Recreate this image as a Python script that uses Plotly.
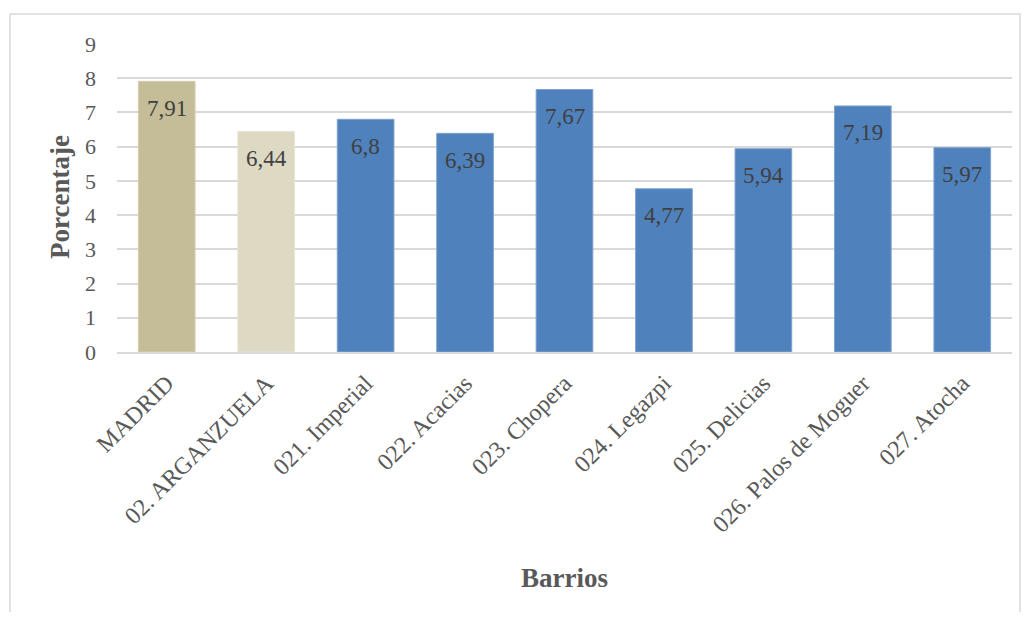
import plotly.graph_objects as go

categories = ["MADRID", "02. ARGANZUELA", "021. Imperial", "022. Acacias", "023. Chopera",
              "024. Legazpi", "025. Delicias", "026. Palos de Moguer", "027. Atocha"]
values = [7.91, 6.44, 6.8, 6.39, 7.67, 4.77, 5.94, 7.19, 5.97]
labels = ["7,91", "6,44", "6,8", "6,39", "7,67", "4,77", "5,94", "7,19", "5,97"]
colors = ["#C4BD97", "#DDD9C3"] + ["#4F81BD"] * 7
edge = ["#D3CDB0", "#E8E5D6"] + ["#7FA2CF"] * 7
y_ticks = [0, 1, 2, 3, 4, 5, 6, 7, 8, 9]

FONT = "Liberation Serif"

# the page body has an 8px margin; figure placed at (8, 8)
OX, OY = 8, 8
W, H = 1014, 604
L, R, T, B = 117 - OX, (OX + W) - 1012, 44 - OY, (OY + H) - 352
pw, ph = W - L - R, H - T - B
def px(x): return (x - OX - L) / pw
def py(y): return (OY + H - B - y) / ph

fig = go.Figure()
fig.add_trace(go.Bar(
    x=categories, y=values,
    marker=dict(color=colors, line=dict(color=edge, width=1)),
    hoverinfo="skip",
))

for c, v, t in zip(categories, values, labels):
    fig.add_annotation(x=c, y=v, text=t, showarrow=False, yanchor="middle", yshift=-27,
                       font=dict(family=FONT, size=23, color="#404040"))

fig.add_shape(type="rect", xref="paper", yref="paper",
              x0=px(10), x1=px(1020), y0=py(640), y1=py(14),
              line=dict(color="#D9D9D9", width=1.5), fillcolor="rgba(0,0,0,0)", layer="below")

fig.add_annotation(xref="paper", yref="paper", x=px(564), y=py(578), text="<b>Barrios</b>",
                   showarrow=False, xanchor="center", yanchor="middle",
                   font=dict(family=FONT, size=27, color="#595959"))
fig.add_annotation(xref="paper", yref="paper", x=px(60), y=py(197), text="<b>Porcentaje</b>",
                   showarrow=False, xanchor="center", yanchor="middle", textangle=-90,
                   font=dict(family=FONT, size=27, color="#595959"))

fig.update_layout(
    width=W, height=H,
    margin=dict(l=L, r=R, t=T, b=B),
    paper_bgcolor="white", plot_bgcolor="white",
    bargap=0.43,
    showlegend=False,
    font=dict(family=FONT, color="#595959"),
    xaxis=dict(
        tickangle=-45, tickfont=dict(family=FONT, size=24, color="#595959"),
        showgrid=False, showline=True, linecolor="#D9D9D9", linewidth=1.5,
        ticks="", ticklabelstandoff=6,
    ),
    yaxis=dict(
        range=[0, 9], tickvals=y_ticks, tickfont=dict(family=FONT, size=22, color="#595959"),
        showgrid=True, gridcolor="#D9D9D9", gridwidth=1.5, zeroline=False,
        showline=False, ticks="", ticklabelstandoff=20,
    ),
)

fig.write_html("out.html")
